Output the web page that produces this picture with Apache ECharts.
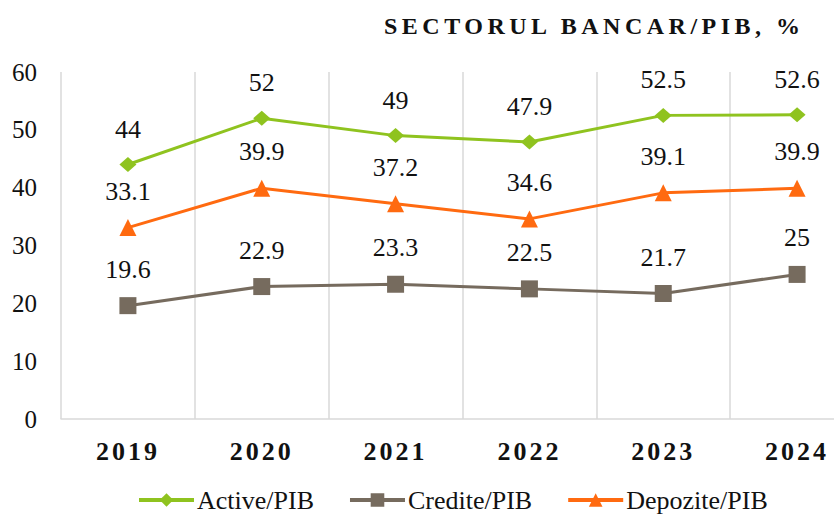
<!DOCTYPE html>
<html>
<head>
<meta charset="utf-8">
<script src="https://cdn.jsdelivr.net/npm/echarts@6/dist/echarts.min.js"></script>
<style>
  html, body { margin: 0; padding: 0; background: #fff; overflow: hidden; }
  #chart { width: 864px; height: 515px; }
</style>
</head>
<body>
<div id="chart"></div>
<script>
var years = ['2019', '2020', '2021', '2022', '2023', '2024'];
var active = [44, 52, 49, 47.9, 52.5, 52.6];
var credite = [19.6, 22.9, 23.3, 22.5, 21.7, 25];
var depozite = [33.1, 39.9, 37.2, 34.6, 39.1, 39.9];
var titleText = 'SECTORUL BANCAR/PIB, %';

var serif = 'Liberation Serif, Times New Roman, serif';
var green = '#8fc31f';
var brown = '#766b5e';
var orange = '#ff6a10';

// the plot runs past the right edge of the page, as in the source
var chart = echarts.init(document.getElementById('chart'), null, { renderer: 'svg' });

function lineSeries(name, data, color, symbol, size) {
  return {
    name: name,
    type: 'line',
    data: data,
    symbol: symbol,
    symbolSize: size,
    clip: false,
    lineStyle: { color: color, width: 3 },
    itemStyle: { color: color },
    label: {
      show: true,
      position: 'top',
      distance: 15,
      color: '#111',
      fontFamily: serif,
      fontSize: 26
    }
  };
}

chart.setOption({
  animation: false,
  backgroundColor: '#fff',
  title: {
    text: titleText,
    left: 379,
    top: 9,
    textAlign: 'left',
    textStyle: { fontFamily: serif, fontSize: 24, fontWeight: 'bold', color: '#111' }
  },
  legend: {
    top: 482,
    left: 132,
    itemWidth: 55,
    itemHeight: 17,
    itemGap: 34,
    lineStyle: { width: 4 },
    textStyle: { fontFamily: serif, fontSize: 26, color: '#111', padding: [0, 0, 0, -2] },
    data: ['Active/PIB', 'Credite/PIB', 'Depozite/PIB']
  },
  grid: {
    left: 61,
    right: 0,
    top: 72,
    bottom: 96,
    containLabel: false
  },
  xAxis: {
    type: 'category',
    data: years,
    boundaryGap: true,
    axisLine: { lineStyle: { color: '#d9d9d9', width: 1.5 } },
    axisTick: { show: false },
    axisLabel: {
      color: '#111',
      fontFamily: serif,
      fontSize: 26,
      fontWeight: 'bold',
      margin: 19
    },
    splitLine: { show: true, lineStyle: { color: '#d9d9d9', width: 1.5 } }
  },
  yAxis: {
    type: 'value',
    min: 0,
    max: 60,
    interval: 10,
    axisLine: { show: false },
    axisTick: { show: false },
    splitLine: { show: false },
    axisLabel: {
      color: '#111',
      fontFamily: serif,
      fontSize: 25,
      margin: 24
    }
  },
  series: [
    lineSeries('Active/PIB', active, green, 'diamond', [17, 15]),
    lineSeries('Credite/PIB', credite, brown, 'rect', 17),
    lineSeries('Depozite/PIB', depozite, orange, 'triangle', 17)
  ]
});

// spaced-out bold captions, like the source
document.querySelectorAll('#chart text').forEach(function(el) {
  var t = el.textContent;
  if (t === titleText) el.setAttribute('letter-spacing', '4.5');
  else if (years.indexOf(t) >= 0) el.setAttribute('letter-spacing', '3');
});
</script>
</body>
</html>
